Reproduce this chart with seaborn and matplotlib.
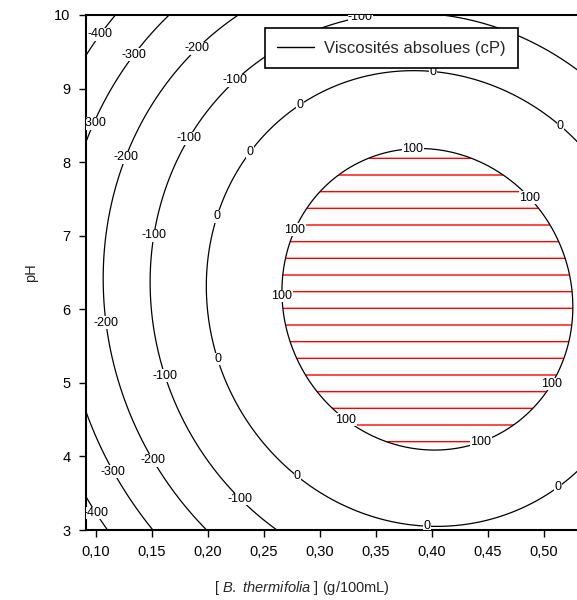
import numpy as np
import matplotlib
matplotlib.use('Agg')
import matplotlib.pyplot as plt
from matplotlib.lines import Line2D
from matplotlib.ticker import FuncFormatter
import seaborn as sns

lvl_100_x = [0.3375, 0.3625, 0.383, 0.413, 0.437, 0.458, 0.483, 0.503, 0.517, 0.523,
             0.318, 0.303, 0.289, 0.280, 0.2705, 0.264, 0.267, 0.2795, 0.294, 0.3116,
             0.338, 0.3687, 0.4045, 0.4277, 0.458, 0.472, 0.503, 0.519, 0.523]
lvl_100_y = [8.00, 8.14, 8.17, 8.14, 8.07, 7.85, 7.46, 7.21, 6.76, 6.13,
             7.85, 7.65, 7.39, 7.12, 6.76, 6.40, 5.85, 5.31, 4.94, 4.63,
             4.40, 4.20, 4.09, 4.13, 4.29, 4.45, 4.77, 5.22, 5.85]

lvl_0_x = [0.401, 0.309, 0.280, 0.271, 0.240, 0.222, 0.205, 0.1955, 0.2045, 0.222,
           0.240, 0.267, 0.309, 0.3536, 0.3955, 0.443, 0.4875, 0.526, 0.458, 0.503, 0.526]
lvl_0_y = [9.225, 9.02, 8.82, 8.67, 8.26, 7.72, 7.04, 6.30, 5.35, 4.77,
           4.32, 3.95, 3.41, 3.14, 3.04, 3.14, 3.37, 3.72, 9.02, 8.71, 8.34]

lvl_m100_x = [0.148, 0.148, 0.163, 0.190, 0.217, 0.240, 0.157, 0.175, 0.193, 0.211,
              0.2527, 0.260, 0.309, 0.327, 0.4116, 0.4545, 0.526]
lvl_m100_y = [6.13, 6.77, 7.49, 8.48, 8.94, 9.28, 5.35, 4.54, 4.09, 3.68,
              3.14, 3.00, 9.84, 9.97, 9.99, 9.84, 9.28]

lvl_m200_x = [0.226, 0.2045, 0.163, 0.133, 0.115, 0.108, 0.105, 0.1125, 0.1277, 0.142,
              0.163, 0.181, 0.199]
lvl_m200_y = [10.0, 9.75, 9.02, 8.30, 7.66, 7.04, 6.30, 5.68, 5.00, 4.32,
              3.64, 3.31, 3.00]

lvl_m300_x = [0.166, 0.142, 0.1277, 0.1098, 0.092, 0.092, 0.0996, 0.1241, 0.139, 0.150]
lvl_m300_y = [10.0, 9.62, 9.30, 8.89, 8.30, 4.54, 4.22, 3.54, 3.27, 3.00]

lvl_m400_x = [0.1196, 0.0996, 0.091, 0.091, 0.1098]
lvl_m400_y = [10.0, 9.75, 9.42, 3.45, 3.00]

levels = [-400, -300, -200, -100, 0, 100]
x_ticks = [0.10, 0.15, 0.20, 0.25, 0.30, 0.35, 0.40, 0.45, 0.50]
y_ticks = [3, 4, 5, 6, 7, 8, 9, 10]

# where the contour labels sit in the reference
label_spots = [(0.107, 9.70), (0.101, 3.24),
               (0.133, 9.47), (0.0975, 8.53), (0.115, 3.79),
               (0.190, 9.55), (0.126, 8.07), (0.106, 5.81), (0.150, 3.94),
               (0.224, 9.12), (0.181, 8.34), (0.150, 7.01), (0.156, 5.07), (0.229, 3.42),
               (0.336, 9.98),
               (0.280, 8.82), (0.235, 8.17), (0.2045, 7.28), (0.206, 5.31), (0.2795, 3.72),
               (0.3955, 3.04), (0.5125, 3.58), (0.401, 9.225), (0.514, 8.48),
               (0.383, 8.17), (0.483, 7.46), (0.276, 7.09), (0.264, 6.18),
               (0.324, 4.52), (0.443, 4.22), (0.505, 5.0)]

# fit a cubic response surface through the read points
px = np.concatenate([lvl_m400_x, lvl_m300_x, lvl_m200_x, lvl_m100_x, lvl_0_x, lvl_100_x])
py = np.concatenate([lvl_m400_y, lvl_m300_y, lvl_m200_y, lvl_m100_y, lvl_0_y, lvl_100_y])
pz = np.concatenate([np.full(len(lvl_m400_x), -400), np.full(len(lvl_m300_x), -300),
                     np.full(len(lvl_m200_x), -200), np.full(len(lvl_m100_x), -100),
                     np.full(len(lvl_0_x), 0), np.full(len(lvl_100_x), 100)])


def basis(x, y):
    u = (x - 0.3) / 0.2
    v = (y - 6.5) / 3.5
    return np.stack([np.ones_like(u), u, v, u**2, u*v, v**2, u**3, u**2*v, u*v**2, v**3], axis=-1)


coef = np.linalg.lstsq(basis(px, py), pz, rcond=None)[0]

xg = np.linspace(0.085, 0.535, 300)
yg = np.linspace(2.9, 10.1, 300)
X, Y = np.meshgrid(xg, yg)
Z = basis(X, Y) @ coef

sns.set_theme(style='ticks')
plt.rcParams['font.family'] = ['Liberation Sans', 'DejaVu Sans']
plt.rcParams['mathtext.fontset'] = 'custom'
plt.rcParams['mathtext.it'] = 'Liberation Sans:italic'
plt.rcParams['mathtext.rm'] = 'Liberation Sans'
plt.rcParams['hatch.linewidth'] = 1.0
plt.rcParams['hatch.color'] = 'red'

fig = plt.figure(figsize=(5.77, 6), dpi=100)
ax = fig.add_axes([86 / 577, 1 - 530 / 600, 492 / 577, 515 / 600])

cf = ax.contourf(X, Y, Z, levels=[100, 1e4], colors='none', hatches=['-'])
cf.set_edgecolor('red')
cf.set_linewidth(0)

cs = ax.contour(X, Y, Z, levels=levels, colors='black', linewidths=0.9,
                linestyles='solid', negative_linestyles='solid')
labels = ax.clabel(cs, fmt='%d', fontsize=9, inline=False, manual=label_spots)
for t in labels:
    t.set_rotation(0)
    t.set_bbox(dict(facecolor='white', edgecolor='none', pad=0.3))

ax.set_xlim(0.0911, 0.5304)
ax.set_ylim(3, 10)
ax.set_xticks(x_ticks)
ax.set_yticks(y_ticks)
ax.xaxis.set_major_formatter(FuncFormatter(lambda v, p: f'{v:.2f}'.replace('.', ',')))
ax.tick_params(axis='both', direction='out', length=5, width=1, colors='black',
               labelsize=10.5, pad=6)
for s in ['left', 'top', 'bottom']:
    ax.spines[s].set_color('black')
    ax.spines[s].set_linewidth(1.5)
ax.spines['right'].set_visible(False)

ax.set_xlabel(r'[ $\it{B.\ thermifolia}$ ] (g/100mL)', fontsize=10.5)
ax.xaxis.set_label_coords((302 - 86) / 492, -49 / 515)
ax.set_ylabel('pH', fontsize=10.5)
ax.yaxis.set_label_coords(-48 / 492, 0.5)

handle = Line2D([], [], color='black', linewidth=1)
leg = ax.legend([handle], ['Viscosités absolues (cP)'], loc='upper right',
                bbox_to_anchor=((518 - 86) / 492, 1 - 13 / 515), bbox_transform=ax.transAxes,
                borderaxespad=0, fancybox=False, framealpha=1, edgecolor='black',
                fontsize=12, handlelength=2.2, handletextpad=0.6, borderpad=0.75)
leg.get_frame().set_linewidth(1.2)
leg.set_zorder(10)

fig.savefig('out.png', dpi=100)
